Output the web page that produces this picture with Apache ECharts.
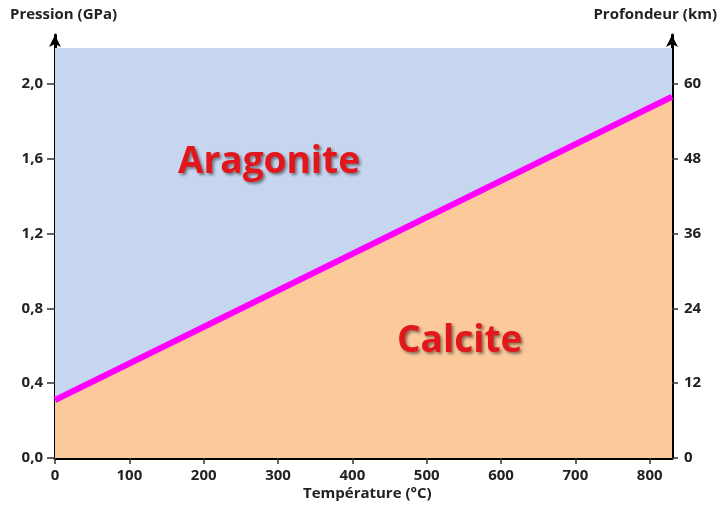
<!DOCTYPE html>
<html>
<head>
<meta charset="utf-8">
<script src="https://cdn.jsdelivr.net/npm/echarts@6/dist/echarts.min.js"></script>
<style>
  html, body { margin: 0; padding: 0; background: #fff; }
  #chart { width: 720px; height: 509px; }
</style>
</head>
<body>
<div id="chart"></div>
<script>
  var tempMax = 830
  var pressionTop = 2.19
  var pressionTicks = [0, 0.4, 0.8, 1.2, 1.6, 2.0]
  var profondeurTicks = [0, 12, 24, 36, 48, 60]
  var tempTicks = [0, 100, 200, 300, 400, 500, 600, 700, 800]
  var limite = [[0, 0.31], [830, 1.93]]   // transition aragonite / calcite
  var kmParGPa = 30

  var yMax = 2.26
  var font = "'Open Sans', 'Liberation Sans', sans-serif"

  var chart = echarts.init(document.getElementById('chart'))
  var option = {
    animation: false,
    grid: { left: 55, right: 48, top: 35, bottom: 51 },
    xAxis: {
      type: 'value',
      min: 0,
      max: tempMax,
      interval: 100,
      axisLine: { lineStyle: { color: '#000', width: 3 } },
      axisTick: { length: 6, lineStyle: { color: '#333', width: 1.5 }, customValues: tempTicks },
      axisLabel: { color: '#222', fontSize: 15, fontWeight: 'bold', fontFamily: font, margin: 10, customValues: tempTicks },
      splitLine: { show: false }
    },
    yAxis: [{
      type: 'value',
      position: 'left',
      min: 0,
      max: yMax,
      axisLine: { show: true, symbol: ['none', 'arrow'], symbolSize: [9, 12], lineStyle: { color: '#000', width: 3 } },
      axisTick: { show: true, length: 8, lineStyle: { color: '#333', width: 1.5 }, customValues: pressionTicks },
      axisLabel: {
        color: '#222', fontSize: 15, fontWeight: 'bold', fontFamily: font, margin: 12,
        customValues: pressionTicks,
        formatter: function (v) { return v.toFixed(1).replace('.', ',') }
      },
      splitLine: { show: false }
    }, {
      type: 'value',
      position: 'right',
      min: 0,
      max: yMax * kmParGPa,
      axisLine: { show: true, symbol: ['none', 'arrow'], symbolSize: [9, 12], lineStyle: { color: '#000', width: 3 } },
      axisTick: { show: true, length: 6, lineStyle: { color: '#333', width: 1.5 }, customValues: profondeurTicks },
      axisLabel: { color: '#222', fontSize: 15, fontWeight: 'bold', fontFamily: font, margin: 12, customValues: profondeurTicks },
      splitLine: { show: false }
    }],
    graphic: [
      { type: 'text', left: 10, top: 7, style: { text: 'Pression (GPa)', font: "bold 15px " + font, fill: '#222' } },
      { type: 'text', right: 3, top: 7, style: { text: 'Profondeur (km)', font: "bold 15px " + font, fill: '#222' } },
      { type: 'text', left: 303, top: 486, style: { text: 'Température (°C)', font: "bold 15px " + font, fill: '#222' } },
      { type: 'text', left: 178, top: 144, z: 10, style: { text: 'Aragonite', font: "bold 37px " + font, fill: '#E3161C', textShadowColor: 'rgba(0,0,0,0.45)', textShadowBlur: 3, textShadowOffsetX: 2, textShadowOffsetY: 2 } },
      { type: 'text', left: 397, top: 323, z: 10, style: { text: 'Calcite', font: "bold 37px " + font, fill: '#E3161C', textShadowColor: 'rgba(0,0,0,0.45)', textShadowBlur: 3, textShadowOffsetX: 2, textShadowOffsetY: 2 } }
    ],
    series: [
      {
        name: 'Aragonite',
        type: 'line',
        data: [[0, pressionTop], [tempMax, pressionTop]],
        symbol: 'none',
        lineStyle: { width: 0 },
        areaStyle: { color: '#C6D6EE', opacity: 1 },
        z: 1
      },
      {
        name: 'Calcite',
        type: 'line',
        data: limite,
        symbol: 'none',
        lineStyle: { color: '#FF00FF', width: 6 },
        areaStyle: { color: '#FBC99A', opacity: 1 },
        z: 2
      }
    ]
  }
  chart.setOption(option)
</script>
</body>
</html>
